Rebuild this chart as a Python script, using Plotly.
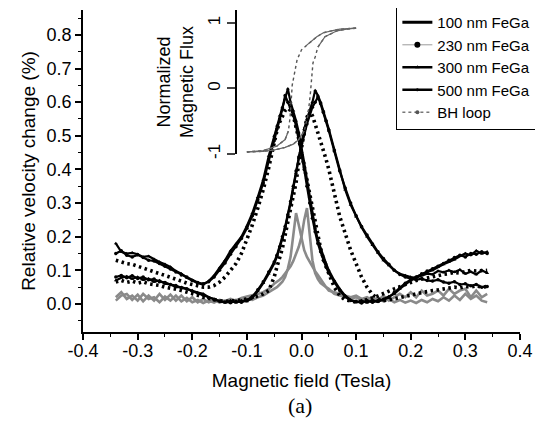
import plotly.graph_objects as go

# ---------------- data ----------------
FIELD = [
    -0.34, -0.33, -0.32, -0.31, -0.30, -0.29, -0.28, -0.27, -0.26, -0.25,
    -0.24, -0.23, -0.22, -0.21, -0.20, -0.19, -0.18, -0.17, -0.16, -0.15,
    -0.14, -0.13, -0.12, -0.11, -0.10, -0.09, -0.08, -0.07, -0.06, -0.05,
    -0.045, -0.04, -0.035, -0.03, -0.025, -0.02, -0.015, -0.01, -0.005, 0.0,
    0.005, 0.01, 0.015, 0.02, 0.025, 0.03, 0.035, 0.04, 0.045,
    0.05, 0.06, 0.07, 0.08, 0.09, 0.10, 0.11, 0.12, 0.13, 0.14,
    0.15, 0.16, 0.17, 0.18, 0.19, 0.20, 0.21, 0.22, 0.23, 0.24,
    0.25, 0.26, 0.27, 0.28, 0.29, 0.30, 0.31, 0.32, 0.33, 0.34,
]

# 100 nm FeGa (grey curve), two sweep branches
v100_a = [
    0.020, 0.035, 0.015, 0.025, 0.010, 0.030, 0.015, 0.020, 0.005, 0.022,
    0.010, 0.025, 0.008, 0.018, 0.005, 0.012, 0.003, 0.010, 0.004, 0.012,
    0.008, 0.015, 0.010, 0.018, 0.022, 0.025, 0.030, 0.035, 0.045, 0.060,
    0.065, 0.072, 0.080, 0.090, 0.100, 0.112, 0.128, 0.148, 0.170, 0.200,
    0.250, 0.285, 0.200, 0.130, 0.092, 0.074, 0.062, 0.055, 0.050,
    0.040, 0.035, 0.030, 0.025, 0.020, 0.025, 0.015, 0.020, 0.010, 0.018,
    0.008, 0.015, 0.005, 0.012, 0.004, 0.010, 0.003, 0.012, 0.005, 0.015,
    0.008, 0.020, 0.010, 0.025, 0.012, 0.030, 0.015, 0.025, 0.010, 0.005,
]
v100_b = [
    0.010, 0.025, 0.030, 0.012, 0.028, 0.008, 0.025, 0.010, 0.030, 0.012,
    0.028, 0.010, 0.025, 0.008, 0.020, 0.005, 0.015, 0.005, 0.012, 0.004,
    0.010, 0.006, 0.012, 0.008, 0.015, 0.012, 0.020, 0.025, 0.035, 0.045,
    0.050, 0.058, 0.066, 0.080, 0.105, 0.140, 0.200, 0.270, 0.235, 0.195,
    0.160, 0.140, 0.125, 0.110, 0.097, 0.086, 0.075, 0.062, 0.050,
    0.045, 0.030, 0.025, 0.020, 0.015, 0.020, 0.010, 0.015, 0.020, 0.010,
    0.025, 0.010, 0.020, 0.030, 0.020, 0.035, 0.020, 0.040, 0.025, 0.030,
    0.040, 0.025, 0.045, 0.030, 0.040, 0.045, 0.020, 0.040, 0.020, 0.030,
]

# 230 nm FeGa (dotted curve)
v230_a = [
    0.130, 0.125, 0.120, 0.118, 0.112, 0.108, 0.100, 0.096, 0.090, 0.085,
    0.080, 0.074, 0.068, 0.062, 0.058, 0.052, 0.050, 0.050, 0.055, 0.065,
    0.080, 0.100, 0.120, 0.150, 0.190, 0.235, 0.285, 0.340, 0.405, 0.480,
    0.515, 0.540, 0.560, 0.575, 0.582, 0.575, 0.560, 0.530, 0.490, 0.450,
    0.410, 0.370, 0.320, 0.280, 0.240, 0.200, 0.165, 0.135, 0.110,
    0.090, 0.050, 0.025, 0.012, 0.008, 0.006, 0.008, 0.012, 0.018, 0.024,
    0.030, 0.038, 0.045, 0.052, 0.058, 0.064, 0.070, 0.074, 0.078, 0.082,
    0.086, 0.088, 0.090, 0.094, 0.092, 0.096, 0.100, 0.098, 0.100, 0.100,
]
v230_b = [
    0.065, 0.070, 0.064, 0.068, 0.062, 0.066, 0.060, 0.058, 0.055, 0.050,
    0.048, 0.044, 0.040, 0.036, 0.030, 0.026, 0.020, 0.016, 0.012, 0.010,
    0.008, 0.008, 0.010, 0.012, 0.014, 0.018, 0.024, 0.030, 0.040, 0.080,
    0.110, 0.135, 0.165, 0.205, 0.245, 0.280, 0.315, 0.360, 0.420, 0.470,
    0.520, 0.555, 0.575, 0.560, 0.535, 0.510, 0.485, 0.460, 0.430,
    0.400, 0.330, 0.260, 0.210, 0.160, 0.120, 0.080, 0.050, 0.028, 0.015,
    0.010, 0.012, 0.015, 0.018, 0.022, 0.026, 0.030, 0.034, 0.036, 0.040,
    0.042, 0.045, 0.046, 0.050, 0.048, 0.052, 0.050, 0.054, 0.050, 0.052,
]

# 300 nm FeGa
v300_a = [
    0.180, 0.155, 0.150, 0.152, 0.148, 0.140, 0.142, 0.133, 0.125, 0.118,
    0.110, 0.098, 0.090, 0.078, 0.070, 0.062, 0.058, 0.068, 0.085, 0.108,
    0.130, 0.158, 0.178, 0.200, 0.232, 0.270, 0.318, 0.370, 0.440, 0.500,
    0.530, 0.560, 0.585, 0.610, 0.640, 0.600, 0.575, 0.545, 0.510, 0.470,
    0.420, 0.370, 0.320, 0.270, 0.225, 0.190, 0.165, 0.140, 0.120,
    0.100, 0.070, 0.045, 0.025, 0.012, 0.005, 0.010, 0.004, 0.012, 0.006,
    0.015, 0.022, 0.030, 0.045, 0.058, 0.070, 0.080, 0.088, 0.095, 0.100,
    0.110, 0.118, 0.125, 0.132, 0.142, 0.150, 0.145, 0.158, 0.150, 0.155,
]
v300_b = [
    0.070, 0.078, 0.082, 0.075, 0.080, 0.072, 0.075, 0.066, 0.070, 0.060,
    0.058, 0.050, 0.050, 0.044, 0.040, 0.034, 0.030, 0.020, 0.015, 0.008,
    0.004, 0.010, 0.004, 0.010, 0.008, 0.018, 0.038, 0.062, 0.090, 0.120,
    0.140, 0.165, 0.195, 0.225, 0.260, 0.300, 0.345, 0.390, 0.440, 0.480,
    0.520, 0.550, 0.575, 0.600, 0.635, 0.620, 0.600, 0.575, 0.545,
    0.520, 0.460, 0.400, 0.340, 0.295, 0.260, 0.228, 0.200, 0.175, 0.152,
    0.130, 0.115, 0.100, 0.090, 0.085, 0.080, 0.078, 0.085, 0.090, 0.088,
    0.098, 0.094, 0.100, 0.095, 0.102, 0.090, 0.096, 0.088, 0.100, 0.092,
]

# 500 nm FeGa
v500_a = [
    0.150, 0.158, 0.145, 0.140, 0.146, 0.138, 0.130, 0.128, 0.120, 0.112,
    0.104, 0.095, 0.086, 0.080, 0.070, 0.064, 0.060, 0.066, 0.080, 0.100,
    0.122, 0.148, 0.170, 0.195, 0.225, 0.262, 0.310, 0.360, 0.425, 0.485,
    0.520, 0.550, 0.580, 0.620, 0.600, 0.585, 0.560, 0.530, 0.490, 0.450,
    0.400, 0.350, 0.300, 0.255, 0.215, 0.180, 0.155, 0.130, 0.110,
    0.092, 0.065, 0.040, 0.022, 0.010, 0.008, 0.003, 0.010, 0.005, 0.010,
    0.012, 0.020, 0.035, 0.048, 0.062, 0.072, 0.080, 0.090, 0.098, 0.105,
    0.112, 0.120, 0.130, 0.138, 0.145, 0.140, 0.150, 0.148, 0.155, 0.150,
]
v500_b = [
    0.080, 0.085, 0.078, 0.084, 0.076, 0.080, 0.072, 0.074, 0.066, 0.064,
    0.058, 0.055, 0.048, 0.045, 0.038, 0.032, 0.026, 0.018, 0.012, 0.008,
    0.006, 0.004, 0.008, 0.005, 0.012, 0.022, 0.042, 0.066, 0.095, 0.125,
    0.145, 0.170, 0.200, 0.230, 0.265, 0.305, 0.350, 0.395, 0.435, 0.470,
    0.505, 0.535, 0.560, 0.585, 0.600, 0.615, 0.595, 0.570, 0.545,
    0.515, 0.455, 0.395, 0.345, 0.300, 0.262, 0.230, 0.205, 0.178, 0.155,
    0.135, 0.118, 0.100, 0.088, 0.080, 0.075, 0.072, 0.075, 0.070, 0.068,
    0.072, 0.065, 0.062, 0.066, 0.058, 0.060, 0.054, 0.058, 0.050, 0.052,
]

# BH loop (inset, normalized magnetic flux)
bh_down_field = [0.10, 0.085, 0.07, 0.055, 0.04, 0.028, 0.016, 0.008, 0.0, -0.008,
                 -0.013, -0.017, -0.019, -0.021, -0.024, -0.03, -0.045, -0.07, -0.10]
bh_down_flux = [0.92, 0.915, 0.905, 0.88, 0.85, 0.79, 0.71, 0.65, 0.59, 0.44,
                0.25, 0.05, -0.20, -0.45, -0.65, -0.78, -0.88, -0.95, -0.97]
bh_up_field = [-0.10, -0.07, -0.05, -0.03, -0.015, -0.005, 0.005, 0.012, 0.016, 0.018,
               0.021, 0.025, 0.03, 0.043, 0.065, 0.085, 0.10]
bh_up_flux = [-0.97, -0.96, -0.94, -0.90, -0.85, -0.78, -0.65, -0.40, -0.10, 0.15,
              0.39, 0.48, 0.63, 0.79, 0.88, 0.91, 0.92]

X_TICKS = [-0.4, -0.3, -0.2, -0.1, 0.0, 0.1, 0.2, 0.3, 0.4]
Y_TICKS = [0.0, 0.1, 0.2, 0.3, 0.4, 0.5, 0.6, 0.7, 0.8]
INSET_TICKS = [-1, 0, 1]
INSET_LABELS = ["-1", "0", "1"]

LEGEND_NAMES = ["100 nm FeGa", "230 nm FeGa", "300 nm FeGa", "500 nm FeGa", "BH loop"]

FONT = "Liberation Sans, Arial, sans-serif"

# ---------------- figure ----------------
fig = go.Figure()


def join(a, b):
    return FIELD + [None] + FIELD, a + [None] + b


x, y = join(v100_a, v100_b)
fig.add_trace(go.Scatter(x=x, y=y, mode="lines", showlegend=False,
                         line=dict(color="#8a8a8a", width=2.6)))
x, y = join(v230_a, v230_b)
fig.add_trace(go.Scatter(x=x, y=y, mode="lines", showlegend=False,
                         line=dict(color="black", width=3.6, dash="2.5px,3.5px")))
x, y = join(v500_a, v500_b)
fig.add_trace(go.Scatter(x=x, y=y, mode="lines+markers", showlegend=False,
                         line=dict(color="black", width=2.2),
                         marker=dict(color="black", size=3.5)))
x, y = join(v300_a, v300_b)
fig.add_trace(go.Scatter(x=x, y=y, mode="lines+markers", showlegend=False,
                         line=dict(color="black", width=2.2),
                         marker=dict(color="black", size=3.5, symbol="triangle-up")))

# BH loop on inset axis
bh_x = bh_down_field + [None] + bh_up_field
bh_y = bh_down_flux + [None] + bh_up_flux
fig.add_trace(go.Scatter(x=bh_x, y=bh_y, yaxis="y2", mode="lines", showlegend=False,
                         line=dict(color="#555555", width=1.4, dash="dot")))
bh_solid = [v if (v is not None and abs(v) >= 0.6) else None for v in bh_y]
fig.add_trace(go.Scatter(x=bh_x, y=bh_solid, yaxis="y2", mode="lines", showlegend=False,
                         connectgaps=False, line=dict(color="#666666", width=1.2)))

# legend entries
fig.add_trace(go.Scatter(x=[None], y=[None], name=LEGEND_NAMES[0], mode="lines",
                         line=dict(color="black", width=3)))
fig.add_trace(go.Scatter(x=[None], y=[None], name=LEGEND_NAMES[1], mode="lines+markers",
                         line=dict(color="#9a9a9a", width=1),
                         marker=dict(color="black", size=6)))
fig.add_trace(go.Scatter(x=[None], y=[None], name=LEGEND_NAMES[2], mode="lines+markers",
                         line=dict(color="black", width=2.5),
                         marker=dict(color="black", size=4, symbol="triangle-up")))
fig.add_trace(go.Scatter(x=[None], y=[None], name=LEGEND_NAMES[3], mode="lines+markers",
                         line=dict(color="black", width=2.5),
                         marker=dict(color="black", size=3)))
fig.add_trace(go.Scatter(x=[None], y=[None], name=LEGEND_NAMES[4], mode="lines+markers",
                         line=dict(color="#777777", width=1.5, dash="dot"),
                         marker=dict(color="#555555", size=4)))

axis_common = dict(showgrid=False, zeroline=False, showline=True, linecolor="black",
                   linewidth=1.8, ticks="outside", ticklen=6, tickwidth=1.5,
                   tickcolor="black", mirror=False, automargin=False,
                   tickfont=dict(family=FONT, size=18, color="black"))

# the page body adds an 8px offset, so margins compensate for it
fig.update_layout(
    width=543, height=423,
    margin=dict(l=75, r=31, t=2, b=99, autoexpand=False),
    paper_bgcolor="white", plot_bgcolor="rgba(0,0,0,0)",
    font=dict(family=FONT, color="black"),
    xaxis=dict(range=[-0.4001, 0.4001], tickvals=X_TICKS,
               ticktext=[f"{v:.1f}" for v in X_TICKS],
               ticklabelstandoff=-5,
               minor=dict(ticks="outside", ticklen=3, tickwidth=1.2, dtick=0.05,
                          tick0=0, tickcolor="black"),
               title=dict(text="Magnetic field (Tesla)", standoff=14,
                          font=dict(family=FONT, size=19)),
               **axis_common),
    yaxis=dict(range=[-0.0833, 0.874], tickvals=Y_TICKS,
               ticktext=[f"{v:.1f}" for v in Y_TICKS],
               minor=dict(ticks="outside", ticklen=3, tickwidth=1.2, dtick=0.05,
                          tick0=0, tickcolor="black"),
               title=dict(text="Relative velocity change (%)", standoff=6,
                          font=dict(family=FONT, size=19)),
               **axis_common),
    yaxis2=dict(domain=[0.553, 1.0], range=[-1, 1.198], anchor="free", position=0.35,
                tickvals=INSET_TICKS, ticktext=INSET_LABELS, tickangle=-90,
                showgrid=False, zeroline=False, showline=True, linecolor="black",
                linewidth=1.5, ticks="outside", ticklen=8, tickwidth=1.5,
                automargin=False,
                tickfont=dict(family=FONT, size=17, color="black"),
                title=dict(text="Normalized<br>Magnetic Flux", standoff=6,
                           font=dict(family=FONT, size=18))),
    legend=dict(x=1.037, xanchor="right", y=1.016, yanchor="top",
                bgcolor="white", bordercolor="black", borderwidth=1.2,
                font=dict(family=FONT, size=15, color="black"),
                tracegroupgap=0),
    annotations=[
        dict(text="(a)", xref="paper", yref="paper", x=0.497, y=-0.227,
             xanchor="center", yanchor="middle",
             showarrow=False, font=dict(family="Liberation Serif, Times New Roman, serif",
                                        size=22, color="black")),
        dict(text="", xref="x", yref="y2", x=-0.12, y=1.23, ax=0, ay=14,
             showarrow=True, arrowhead=2, arrowsize=1, arrowwidth=1.5,
             arrowcolor="black"),
    ],
)

fig.write_html("out.html")
